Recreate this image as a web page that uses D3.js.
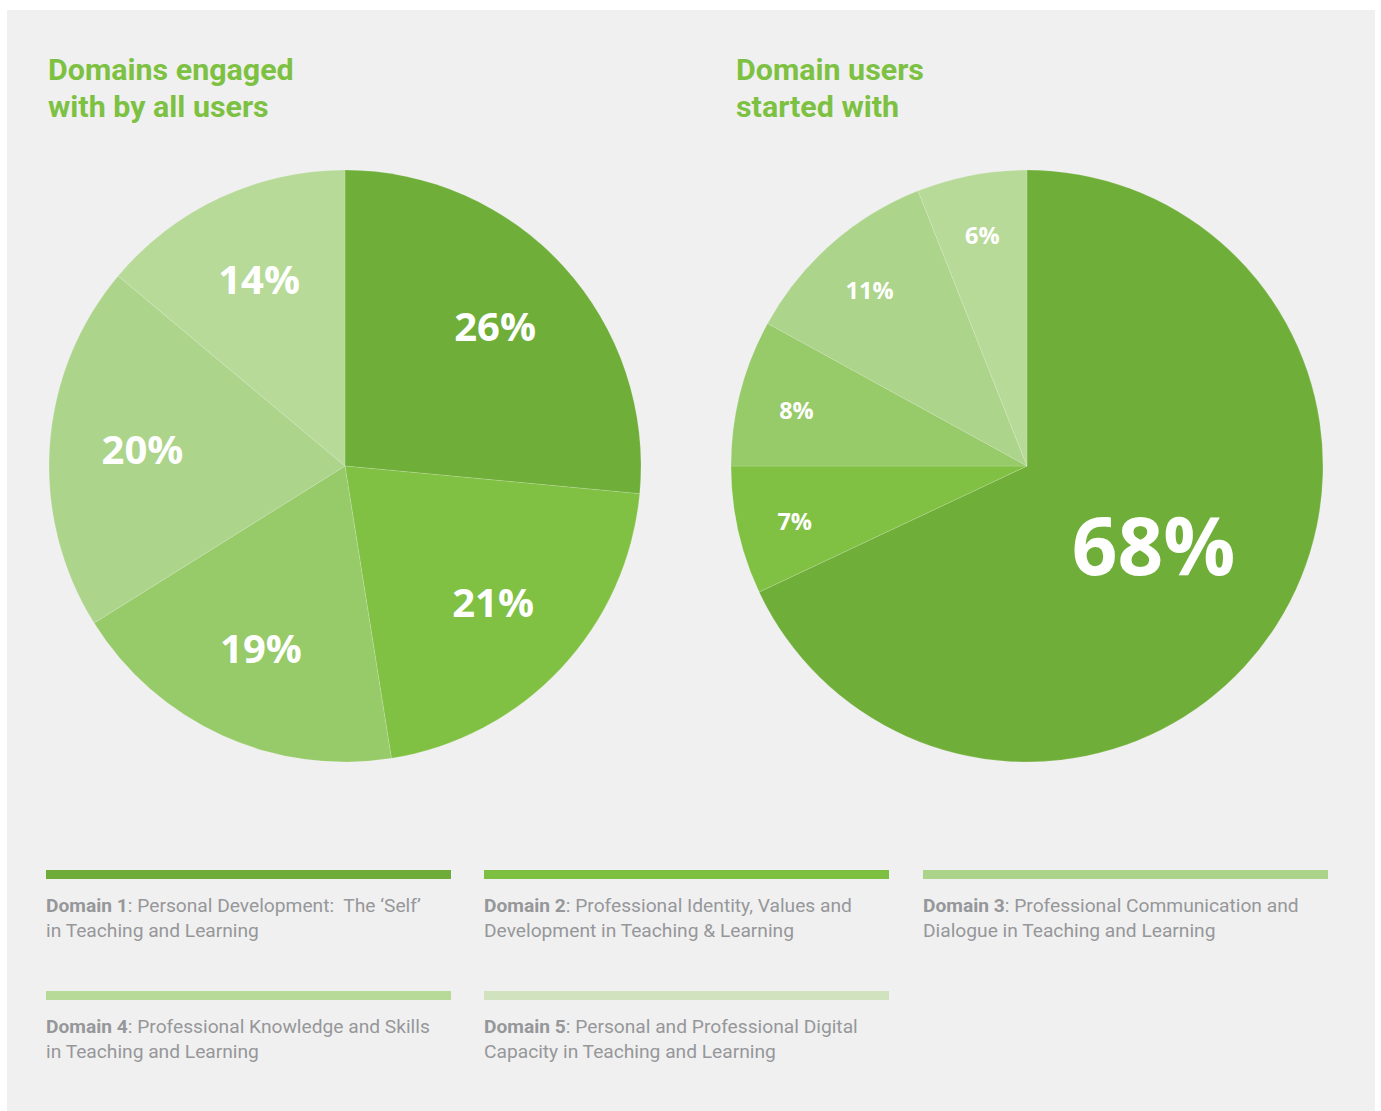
<!DOCTYPE html>
<html lang="en">
<head>
    <meta charset="UTF-8">
    <title>Domains engaged with by all users / Domain users started with</title>
    <script src="https://d3js.org/d3.v7.min.js"></script>
    <style>
        body { margin: 0; background: #fff; }
        .title { font-family: Roboto, sans-serif; font-weight: 700; font-size: 30.4px; fill: #7dc142; }
        .pct { font-family: "Open Sans", sans-serif; font-weight: 700; fill: #fff; text-anchor: middle; }
        .legend-text { font-family: Roboto, sans-serif; font-size: 19.2px; fill: #96979a; white-space: pre; }
        .legend-text .bold { font-weight: 700; }
    </style>
</head>
<body>
<svg width="1381" height="1111"></svg>
<script>
    // Data
    const domains = ["Domain 1", "Domain 2", "Domain 3", "Domain 4", "Domain 5"];
    const domainText = [
        ["Personal Development:  The \u2018Self\u2019", "in Teaching and Learning"],
        ["Professional Identity, Values and", "Development in Teaching & Learning"],
        ["Professional Communication and", "Dialogue in Teaching and Learning"],
        ["Professional Knowledge and Skills", "in Teaching and Learning"],
        ["Personal and Professional Digital", "Capacity in Teaching and Learning"]
    ];
    const engagedAll = [26.49, 21.0, 18.6, 20.0, 13.9];  // left pie
    const startedWith = [68, 7, 8, 11, 6];               // right pie
    const titleLeft = ["Domains engaged", "with by all users"];
    const titleRight = ["Domain users", "started with"];

    const pieColors = ["#70ae3a", "#80c143", "#97ca69", "#acd48a", "#b8da99"];
    const legendColors = ["#6eab38", "#7dbf41", "#abd48a", "#b8da98", "#d0e3be"];

    const svg = d3.select("svg");

    svg.append("rect")
        .attr("x", 7).attr("y", 10)
        .attr("width", 1368).attr("height", 1101)
        .attr("fill", "#f0f0f0");

    const radius = 296;
    const pie = d3.pie().sort(null).value(d => d);
    const arc = d3.arc().innerRadius(0).outerRadius(radius);

    function drawPie(values, cx, cy, title, titleX, labelStyle) {
        const g = svg.append("g").attr("transform", `translate(${cx},${cy})`);
        const arcs = pie(values);

        g.selectAll("path")
            .data(arcs)
            .enter().append("path")
            .attr("d", arc)
            .attr("fill", (d, i) => pieColors[i])
            .attr("stroke", "rgba(255,255,255,0.25)")
            .attr("stroke-width", 0.6);

        g.selectAll("text.pct")
            .data(arcs)
            .enter().append("text")
            .attr("class", "pct")
            .attr("transform", d => {
                const r = labelStyle.radius(d.data);
                const c = d3.arc().innerRadius(r).outerRadius(r).centroid(d);
                return `translate(${c[0]},${c[1]})`;
            })
            .attr("dy", d => labelStyle.dy(d.data))
            .style("font-size", d => labelStyle.size(d.data) + "px")
            .text(d => Math.round(d.data) + "%");

        svg.append("text")
            .attr("class", "title")
            .selectAll("tspan")
            .data(title)
            .enter().append("tspan")
            .attr("x", titleX)
            .attr("y", (d, i) => 80 + i * 37)
            .text(d => d);
    }

    drawPie(engagedAll, 345, 466, titleLeft, 48, {
        radius: () => 203,
        size: () => 40,
        dy: () => "0.3em"
    });

    drawPie(startedWith, 1027, 466, titleRight, 736, {
        radius: v => v > 50 ? 150 : 238,
        size: v => v > 50 ? 80 : 23.5,
        dy: v => v > 50 ? "0.36em" : "0.5em"
    });

    // Legend
    const colX = [46, 484, 923];
    const rowY = [870, 991];
    const legend = svg.append("g");
    domains.forEach((name, i) => {
        const x = colX[i % 3];
        const y = rowY[Math.floor(i / 3)];
        legend.append("rect")
            .attr("x", x).attr("y", y)
            .attr("width", 405).attr("height", 9)
            .attr("fill", legendColors[i]);
        const t = legend.append("text").attr("class", "legend-text");
        const l1 = t.append("tspan").attr("x", x).attr("y", y + 42);
        l1.append("tspan").attr("class", "bold").text(name);
        l1.append("tspan").text(": " + domainText[i][0]);
        t.append("tspan").attr("x", x).attr("y", y + 67).text(domainText[i][1]);
    });
</script>
</body>
</html>
